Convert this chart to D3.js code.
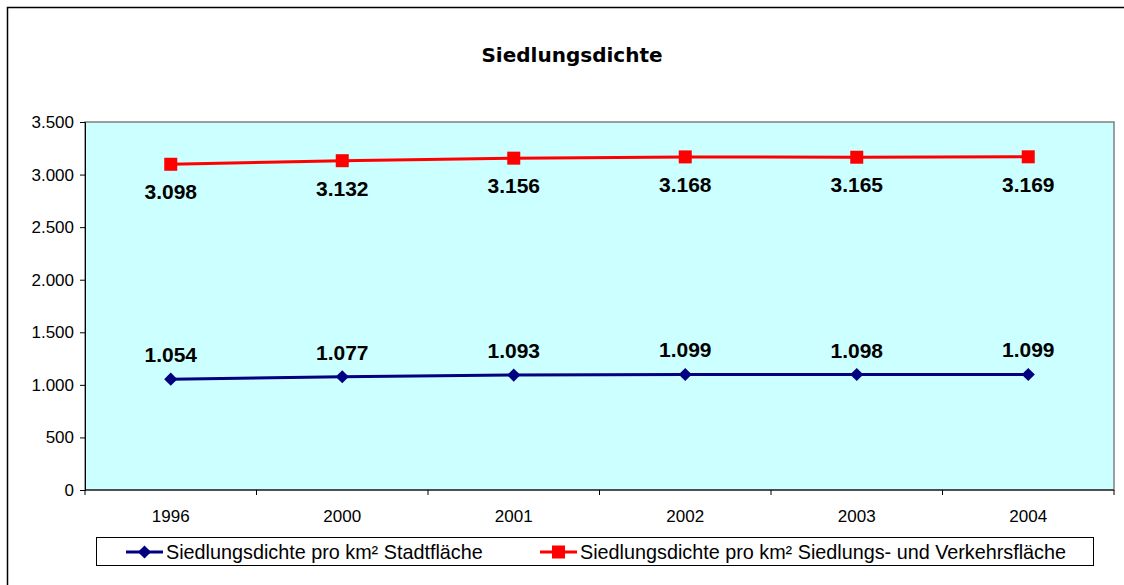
<!DOCTYPE html>
<html>
<head>
<meta charset="utf-8">
<script src="https://cdn.jsdelivr.net/npm/d3@7"></script>
<style>
  html, body { margin: 0; background: #fff; overflow: hidden; }
  svg { display: block; font-family: "Liberation Sans", Arial, sans-serif; }
</style>
</head>
<body>
<div id="chart"></div>
<script>
const years = ['1996', '2000', '2001', '2002', '2003', '2004']
const stadt = [1054, 1077, 1093, 1099, 1098, 1099]
const siedlung = [3098, 3132, 3156, 3168, 3165, 3169]
const y_ticks = [0, 500, 1000, 1500, 2000, 2500, 3000, 3500]
const series_names = ['Siedlungsdichte pro km² Stadtfläche', 'Siedlungsdichte pro km² Siedlungs- und Verkehrsfläche']

const W = 1124, H = 585
const plot = {left: 85, top: 122, right: 1114, bottom: 490}
const fmt = v => d3.format(',')(v).replace(/,/g, '.')

const svg = d3.select('#chart').append('svg').attr('width', W).attr('height', H)

// outer frame: only top and left edges are in view
svg.append('path')
  .attr('d', 'M7.5,' + H + 'V7.5H' + W)
  .attr('fill', 'none').attr('stroke', '#000').attr('stroke-width', 1.5)

svg.append('text')
  .attr('x', 572).attr('y', 62).attr('text-anchor', 'middle')
  .style('font-family', '"Comic Sans MS", "DejaVu Sans", sans-serif')
  .style('font-weight', 'bold').style('font-size', '20px')
  .text('Siedlungsdichte')

const x = d3.scaleBand().domain(years).range([plot.left, plot.right])
const y = d3.scaleLinear().domain([0, 3500]).range([plot.bottom, plot.top])

svg.append('rect')
  .attr('x', plot.left).attr('y', plot.top)
  .attr('width', plot.right - plot.left).attr('height', plot.bottom - plot.top)
  .attr('fill', '#CCFFFF').attr('stroke', '#808080').attr('stroke-width', 1.5)

// y axis
const y_axis = d3.axisLeft(y).tickValues(y_ticks).tickFormat(fmt).tickSize(5).tickPadding(6)
svg.append('g')
  .attr('transform', 'translate(' + plot.left + ',0)')
  .call(y_axis)
  .attr('font-size', null).attr('font-family', null)
  .call(g => g.selectAll('text').style('font-size', '17px').attr('fill', '#000'))
  .call(g => g.selectAll('line, path').attr('stroke', '#000'))

// x axis, ticks on band edges
svg.append('line')
  .attr('x1', plot.left).attr('x2', plot.right)
  .attr('y1', plot.bottom).attr('y2', plot.bottom)
  .attr('stroke', '#000')
const edges = years.map(d => x(d)).concat([x(years[years.length - 1]) + x.bandwidth()])
svg.selectAll('.xtick').data(edges).enter().append('line')
  .attr('x1', d => d).attr('x2', d => d)
  .attr('y1', plot.bottom).attr('y2', plot.bottom + 5)
  .attr('stroke', '#000')
svg.selectAll('.xlabel').data(years).enter().append('text')
  .attr('x', d => x(d) + x.bandwidth() / 2).attr('y', plot.bottom + 32)
  .attr('text-anchor', 'middle').style('font-size', '17px')
  .text(d => d)

const cx = d => x(d) + x.bandwidth() / 2
const line = d3.line().x((d, i) => cx(years[i])).y(d => y(d))

// red series
svg.append('path').datum(siedlung)
  .attr('d', line).attr('fill', 'none').attr('stroke', '#FF0000').attr('stroke-width', 3)
svg.selectAll('.sq').data(siedlung).enter().append('rect')
  .attr('x', (d, i) => cx(years[i]) - 6.5).attr('y', d => y(d) - 6.5)
  .attr('width', 13).attr('height', 13).attr('fill', '#FF0000')
svg.selectAll('.rlab').data(siedlung).enter().append('text')
  .attr('x', (d, i) => cx(years[i])).attr('y', d => y(d) + 35)
  .attr('text-anchor', 'middle').style('font-size', '21px').style('font-weight', 'bold')
  .text(fmt)

// blue series
svg.append('path').datum(stadt)
  .attr('d', line).attr('fill', 'none').attr('stroke', '#000080').attr('stroke-width', 3)
const diamond = d3.symbol().type(d3.symbolDiamond2).size(110)
svg.selectAll('.dm').data(stadt).enter().append('path')
  .attr('d', diamond)
  .attr('transform', (d, i) => 'translate(' + cx(years[i]) + ',' + y(d) + ')')
  .attr('fill', '#000080')
svg.selectAll('.blab').data(stadt).enter().append('text')
  .attr('x', (d, i) => cx(years[i])).attr('y', d => y(d) - 17)
  .attr('text-anchor', 'middle').style('font-size', '21px').style('font-weight', 'bold')
  .text(fmt)

// legend
const lg = svg.append('g')
lg.append('rect')
  .attr('x', 96.5).attr('y', 537.5).attr('width', 997).attr('height', 28)
  .attr('fill', '#fff').attr('stroke', '#000')
const lx = [126, 540], ly = 552
const colors = ['#000080', '#FF0000']
series_names.forEach((name, i) => {
  lg.append('line')
    .attr('x1', lx[i]).attr('x2', lx[i] + 37).attr('y1', ly).attr('y2', ly)
    .attr('stroke', colors[i]).attr('stroke-width', 3)
  if (i === 0) {
    lg.append('path').attr('d', diamond)
      .attr('transform', 'translate(' + (lx[i] + 18.5) + ',' + ly + ')').attr('fill', colors[i])
  } else {
    lg.append('rect').attr('x', lx[i] + 12).attr('y', ly - 6.5)
      .attr('width', 13).attr('height', 13).attr('fill', colors[i])
  }
  lg.append('text').attr('x', lx[i] + 40).attr('y', ly + 7)
    .style('font-size', '19.8px').text(name)
})
</script>
</body>
</html>
